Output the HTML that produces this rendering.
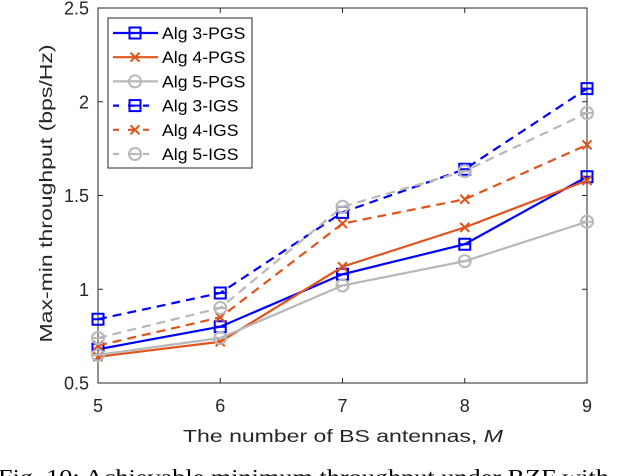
<!DOCTYPE html>
<html><head><meta charset="utf-8"><style>body{margin:0;background:#fff}svg{display:block}text{font-family:"Liberation Sans",Arial,sans-serif}</style></head>
<body>
<svg id="c" width="624" height="476"></svg>
<script>
const categories=[5,6,7,8,9];
const alg3PGS=[0.68,0.80,1.08,1.24,1.60];
const alg4PGS=[0.64,0.72,1.12,1.33,1.58];
const alg5PGS=[0.65,0.74,1.02,1.15,1.36];
const alg3IGS=[0.84,0.98,1.41,1.64,2.07];
const alg4IGS=[0.70,0.85,1.35,1.48,1.77];
const alg5IGS=[0.74,0.90,1.44,1.63,1.94];
const yTicks=[0.5,1,1.5,2,2.5];
const yTickLabels=["0.5","1","1.5","2","2.5"];
const seriesNames=["Alg 3-PGS","Alg 4-PGS","Alg 5-PGS","Alg 3-IGS","Alg 4-IGS","Alg 5-IGS"];

const NS="http://www.w3.org/2000/svg",svg=document.getElementById('c');
const L=98,R=587,T=8,B=383;
const xs=v=>L+(v-5)/(9-5)*(R-L), ys=v=>B-(v-0.5)/(2.5-0.5)*(B-T);
function mk(t,a,p){const e=document.createElementNS(NS,t);for(const k in a)e.setAttribute(k,a[k]);(p||svg).appendChild(e);return e;}
let e=mk('rect',{x:L,y:T,width:R-L,height:B-T,fill:'none',stroke:'#262626','stroke-width':1});


categories.forEach(c=>{
 mk('line',{x1:xs(c),x2:xs(c),y1:B,y2:B-5,stroke:'#262626'});mk('line',{x1:xs(c),x2:xs(c),y1:T,y2:T+5,stroke:'#262626'});
 const t=mk('text',{x:xs(c),y:B+29,'text-anchor':'middle','font-size':18,fill:'#262626'});t.textContent=c;
 
 
});
yTicks.forEach((v,i)=>{
 mk('line',{x1:L,x2:L+5,y1:ys(v),y2:ys(v),stroke:'#262626'});mk('line',{x1:R,x2:R-5,y1:ys(v),y2:ys(v),stroke:'#262626'});
 const t=mk('text',{x:L-9,y:ys(v)+6.5,'text-anchor':'end','font-size':18,fill:'#262626'});t.textContent=yTickLabels[i];
 
 
});
let t=mk('text',{x:0,y:0,'font-size':18,fill:'#262626',transform:'translate(183,442) scale(1.28,1)'});
t.innerHTML='The number of BS antennas, <tspan font-style="italic">M</tspan>';


t=mk('text',{x:0,y:0,'text-anchor':'middle','font-size':18,fill:'#262626',transform:`translate(52,${(T+B)/2-2}) rotate(-90) scale(1.28,1)`});
t.textContent='Max-min throughput (bps/Hz)';


t=mk('text',{x:0,y:0,'font-size':21,fill:'#000',style:'font-family:"Liberation Serif",serif',transform:'translate(-2,484) scale(1.25,1)'});
t.textContent='Fig. 10: Achievable minimum throughput under RZF with';



const cols=['#0000ff','#e0541c','#b8b8b8','#0000ff','#e0541c','#b8b8b8'];
const marks=['sq','x','o','sq','x','o'];
const data=[alg3PGS,alg4PGS,alg5PGS,alg3IGS,alg4IGS,alg5IGS];
function marker(g,type,x,y,col){
 if(type==='sq'){mk('rect',{x:x-5.5,y:y-5.5,width:11,height:11,fill:'none',stroke:col,'stroke-width':2},g);mk('line',{x1:x-5.5,x2:x+5.5,y1:y,y2:y,stroke:col,'stroke-width':2},g);}
 else if(type==='x'){mk('path',{d:`M${x-4.5},${y-4.5}L${x+4.5},${y+4.5}M${x-4.5},${y+4.5}L${x+4.5},${y-4.5}`,stroke:col,'stroke-width':2},g);}
 else {mk('circle',{cx:x,cy:y,r:6,fill:'none',stroke:col,'stroke-width':2},g);mk('line',{x1:x-6,x2:x+6,y1:y,y2:y,stroke:col,'stroke-width':2},g);}
}
data.forEach((d,s)=>{
 const g=mk('g',{});
 
 
 mk('polyline',{points:d.map((v,i)=>xs(categories[i])+','+ys(v)).join(' '),fill:'none',stroke:cols[s],'stroke-width':2.2,'stroke-dasharray':s>2?'9,6':'none'},g);
 d.forEach((v,i)=>marker(g,marks[s],xs(categories[i]),ys(v),cols[s]));
});
const lg=mk('g',{});


mk('rect',{x:108,y:18,width:144,height:150,fill:'#fff',stroke:'#262626','stroke-width':1},lg);
seriesNames.forEach((n,s)=>{
 const y=33+s*24.2;
 const g=mk('g',{},lg);
 
 
 mk('line',{x1:113,x2:158,y1:y,y2:y,stroke:cols[s],'stroke-width':2.2,'stroke-dasharray':s>2?'6,9':'none'},g);
 marker(g,marks[s],135,y,cols[s]);
 const tt=mk('text',{x:0,y:0,'font-size':16.5,fill:'#000',transform:`translate(162,${y+6}) scale(1.07,1)`},g);tt.textContent=n;
});
</script>
</body></html>
